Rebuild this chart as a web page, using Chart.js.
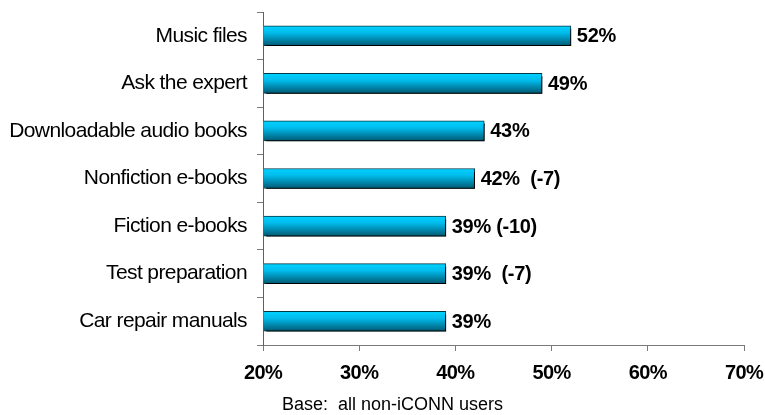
<!DOCTYPE html>
<html>
<head>
<meta charset="utf-8">
<script src="https://cdn.jsdelivr.net/npm/chart.js@4/dist/chart.umd.min.js"></script>
<style>
  html, body { margin: 0; padding: 0; background: #fff; }
  #wrap { width: 765px; height: 415px; }
</style>
</head>
<body>
<div id="wrap"><canvas id="serviceChart"></canvas></div>
<script>
// services wanted by non-users, share in percent
const services = [
  'Music files',
  'Ask the expert',
  'Downloadable audio books',
  'Nonfiction e-books',
  'Fiction e-books',
  'Test preparation',
  'Car repair manuals'
];
const shares = [52, 49, 43, 42, 39, 39, 39];
const changes = ['', '', '', '  (-7)', ' (-10)', '  (-7)', ''];
const axisMin = 20;
const axisMax = 70;
const axisStep = 10;
const baseNote = 'Base:  all non-iCONN users';

const FONT = "'Liberation Sans', Arial, sans-serif";

// vertical cyan gradient for each bar
function barFill(ctx) {
  const chart = ctx.chart;
  if (ctx.type !== 'data' || !chart.chartArea) return '#00b4e0';
  const y = chart.scales.y.getPixelForValue(ctx.dataIndex);
  const g = chart.ctx.createLinearGradient(0, y - 10, 0, y + 10);
  g.addColorStop(0, '#00d2ff');
  g.addColorStop(0.35, '#00bcec');
  g.addColorStop(1, '#005872');
  return g;
}

// tighter letter spacing for the axis text
const tightText = {
  id: 'tightText',
  beforeDraw(chart) { chart.ctx.letterSpacing = '-0.6px'; },
  afterDraw(chart) { chart.ctx.letterSpacing = '0px'; }
};

// hard black drop shadow behind the bars
const barShadow = {
  id: 'barShadow',
  beforeDatasetsDraw(chart) {
    const c = chart.ctx;
    c.save();
    c.shadowColor = '#000';
    c.shadowOffsetX = 3;
    c.shadowOffsetY = 3;
    c.shadowBlur = 0;
  },
  afterDatasetsDraw(chart) {
    chart.ctx.restore();
  }
};

// "52%" style labels at the bar ends, plus the base note under the axis
const barLabels = {
  id: 'barLabels',
  afterDraw(chart) {
    const c = chart.ctx;
    const meta = chart.getDatasetMeta(0);
    c.save();
    c.letterSpacing = '-0.3px';
    c.fillStyle = '#000';
    c.font = 'bold 20px ' + FONT;
    c.textAlign = 'left';
    c.textBaseline = 'middle';
    meta.data.forEach((bar, i) => {
      c.fillText(shares[i] + '%' + changes[i], bar.x + 6, bar.y + 1);
    });
    c.letterSpacing = '0px';
    c.font = '18px ' + FONT;
    c.fillText(baseNote, chart.chartArea.left + 19, 405);
    c.restore();
  }
};

new Chart(document.getElementById('serviceChart'), {
  type: 'bar',
  data: {
    labels: services,
    datasets: [{
      data: shares,
      base: axisMin,
      backgroundColor: barFill,
      borderColor: '#003848',
      borderWidth: 1,
      borderSkipped: 'start',
      barThickness: 20
    }]
  },
  options: {
    indexAxis: 'y',
    responsive: true,
    maintainAspectRatio: false,
    animation: false,
    layout: { padding: { top: 12, right: 21, left: 0, bottom: 0 } },
    plugins: {
      legend: { display: false },
      tooltip: { enabled: false }
    },
    scales: {
      x: {
        min: axisMin,
        max: axisMax,
        afterFit(scale) {
          scale.height = 70;
          scale.paddingLeft = 0;
          scale.paddingRight = 0;
        },
        border: { color: '#7a7a7a', width: 1 },
        grid: { drawOnChartArea: false, tickLength: 6, color: '#7a7a7a' },
        ticks: {
          stepSize: axisStep,
          padding: 10,
          color: '#000',
          font: { family: FONT, size: 20, weight: 'bold' },
          callback: v => v + '%'
        }
      },
      y: {
        offset: true,
        afterFit(scale) {
          scale.width = 263;
          scale.paddingTop = 0;
          scale.paddingBottom = 0;
        },
        border: { color: '#606060', width: 1 },
        grid: { offset: true, drawOnChartArea: false, tickLength: 6, color: '#7a7a7a' },
        ticks: {
          padding: 10,
          color: '#000',
          font: { family: FONT, size: 21 }
        }
      }
    }
  },
  plugins: [tightText, barShadow, barLabels]
});
</script>
</body>
</html>
